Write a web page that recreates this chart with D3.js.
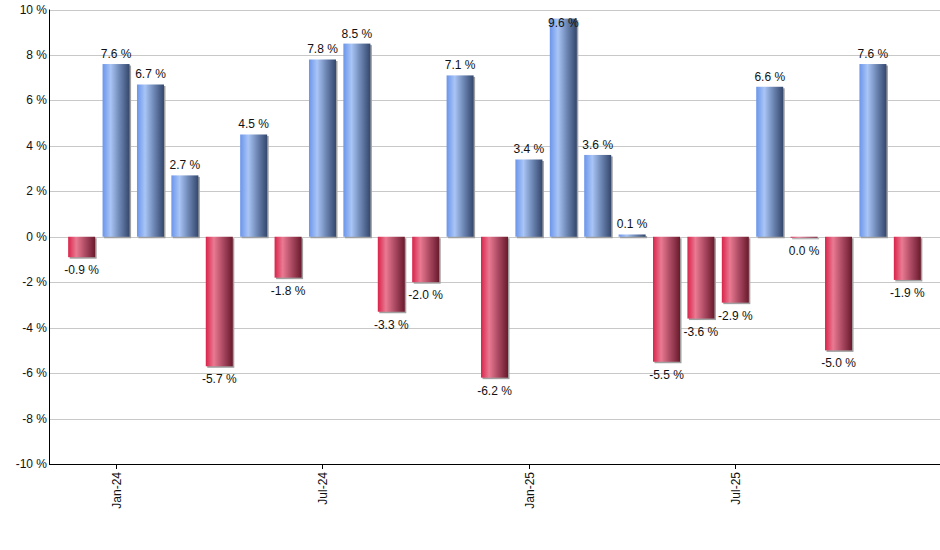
<!DOCTYPE html>
<html>
<head>
<meta charset="utf-8">
<script src="https://cdn.jsdelivr.net/npm/d3@7"></script>
<style>
  body { margin: 0; background: #fff; }
  text { font-family: "Liberation Sans", Arial, sans-serif; }
</style>
</head>
<body>
<div id="chart"></div>
<script>
// mjeseci i povrati (%)
const months = ["Dec-23","Jan-24","Feb-24","Mar-24","Apr-24","May-24","Jun-24","Jul-24","Aug-24","Sep-24","Oct-24","Nov-24",
  "Dec-24","Jan-25","Feb-25","Mar-25","Apr-25","May-25","Jun-25","Jul-25","Aug-25","Sep-25","Oct-25","Nov-25","Dec-25"];
const returns = [-0.9, 7.6, 6.7, 2.7, -5.7, 4.5, -1.8, 7.8, 8.5, -3.3, -2.0, 7.1,
  -6.2, 3.4, 9.6, 3.6, 0.1, -5.5, -3.6, -2.9, 6.6, -0.04, -5.0, 7.6, -1.9];
const labels = ["-0.9","7.6","6.7","2.7","-5.7","4.5","-1.8","7.8","8.5","-3.3","-2.0","7.1",
  "-6.2","3.4","9.6","3.6","0.1","-5.5","-3.6","-2.9","6.6","0.0","-5.0","7.6","-1.9"];
const xTicks = ["Jan-24","Jul-24","Jan-25","Jul-25"];
const yTicks = [-10, -8, -6, -4, -2, 0, 2, 4, 6, 8, 10];

const dim = { sirina: 940, visina: 550, left: 49, right: 940, top: 9.5, bottom: 464 };

const svg = d3.select("#chart").append("svg")
  .attr("width", dim.sirina)
  .attr("height", dim.visina);

const defs = svg.append("defs");
function gradient(id, stops) {
  const g = defs.append("linearGradient").attr("id", id)
    .attr("x1", "0%").attr("x2", "100%").attr("y1", "0%").attr("y2", "0%");
  stops.forEach(s => g.append("stop").attr("offset", s[0]).attr("stop-color", s[1]));
}
gradient("gPos", [["0%", "#6b95ea"], ["30%", "#a9c5f6"], ["65%", "#6a83b0"], ["100%", "#34476c"]]);
gradient("gNeg", [["0%", "#d9234a"], ["30%", "#e97a92"], ["65%", "#a84860"], ["100%", "#6a1a2c"]]);

const x = d3.scaleBand()
  .domain(months)
  .range([dim.left, dim.right])
  .paddingInner(0.215)
  .paddingOuter(0.557);

const y = d3.scaleLinear()
  .domain([-10, 10])
  .range([dim.bottom, dim.top]);

// mreža
svg.append("g")
  .selectAll("line")
  .data(yTicks)
  .join("line")
  .attr("x1", dim.left).attr("x2", dim.right)
  .attr("y1", d => Math.round(y(d)) + 0.5).attr("y2", d => Math.round(y(d)) + 0.5)
  .attr("stroke", "#c8c8c8");

// stupci (sjena pa stupac)
const bars = svg.append("g");
const bw = x.bandwidth();
bars.selectAll("rect.sjena")
  .data(returns)
  .join("rect")
  .attr("class", "sjena")
  .attr("x", (d, i) => x(months[i]) + 1.5)
  .attr("y", d => Math.min(y(d), y(0)) + 1.5)
  .attr("width", bw)
  .attr("height", d => Math.max(1, Math.abs(y(d) - y(0))))
  .attr("fill", "#a0a0a0");
bars.selectAll("rect.bar")
  .data(returns)
  .join("rect")
  .attr("class", "bar")
  .attr("x", (d, i) => x(months[i]))
  .attr("y", d => Math.min(y(d), y(0)))
  .attr("width", bw)
  .attr("height", d => Math.max(1, Math.abs(y(d) - y(0))))
  .attr("fill", d => d >= 0 ? "url(#gPos)" : "url(#gNeg)");

// oznake vrijednosti
svg.append("g")
  .selectAll("text")
  .data(returns)
  .join("text")
  .attr("x", (d, i) => x(months[i]) + bw / 2)
  .attr("y", d => {
    if (d >= 0) {
      const t = y(d) - 6;
      return t < 20 ? t + 14 : t;
    }
    return y(d) + 17;
  })
  .attr("text-anchor", "middle")
  .attr("font-size", 12)
  .attr("fill", "#111")
  .text((d, i) => labels[i] + " %");

// osi
svg.append("line")
  .attr("x1", dim.left + 0.5).attr("x2", dim.left + 0.5)
  .attr("y1", dim.top).attr("y2", dim.bottom)
  .attr("stroke", "#000");
svg.append("line")
  .attr("x1", dim.left).attr("x2", dim.right)
  .attr("y1", Math.round(dim.bottom) + 0.5).attr("y2", Math.round(dim.bottom) + 0.5)
  .attr("stroke", "#000");

svg.append("g")
  .selectAll("text")
  .data(yTicks)
  .join("text")
  .attr("x", dim.left - 2)
  .attr("y", d => y(d) + 4)
  .attr("text-anchor", "end")
  .attr("font-size", 12)
  .attr("fill", "#111")
  .text(d => d + " %");

const xt = svg.append("g").selectAll("g")
  .data(xTicks)
  .join("g")
  .attr("transform", d => `translate(${Math.round(x(d) + bw / 2) + 0.5},${Math.round(dim.bottom)})`);
xt.append("line").attr("y1", 0).attr("y2", 5).attr("stroke", "#000");
xt.append("text")
  .attr("transform", "rotate(-90)")
  .attr("x", -8)
  .attr("y", 4)
  .attr("text-anchor", "end")
  .attr("font-size", 12)
  .attr("fill", "#111")
  .text(d => d);
</script>
</body>
</html>
